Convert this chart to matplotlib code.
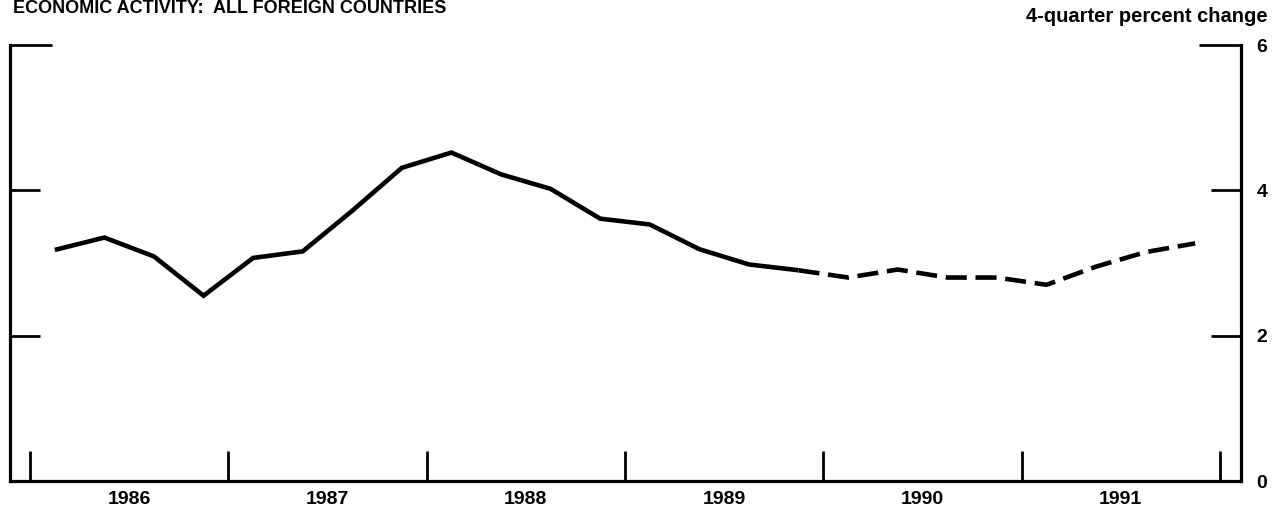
import matplotlib
matplotlib.use("Agg")
import matplotlib.pyplot as plt
import numpy as np

plt.rcParams['font.family'] = ['Liberation Sans', 'DejaVu Sans']

# ---- data ----
years = [1986, 1987, 1988, 1989, 1990, 1991]
year_labels = ["1986", "1987", "1988", "1989", "1990", "1991"]
quarters = [y + (q - 0.5) / 4 for y in years for q in range(1, 5)]
activity = [3.18, 3.35, 3.09, 2.55,
            3.07, 3.16, 3.72, 4.31,
            4.52, 4.22, 4.02, 3.61,
            3.53, 3.19, 2.98, 2.90,
            2.80, 2.91, 2.80, 2.80,
            2.70, 2.95, 3.15, 3.27]
last_actual = 15  # 1989Q4; projection dashed afterwards
y_ticks = [0, 2, 4]
y_top_tick = [6]
title = "ECONOMIC ACTIVITY:  ALL FOREIGN COUNTRIES"
units = "4-quarter percent change"

W, H = 1283, 516
fig = plt.figure(figsize=(W / 100, H / 100), dpi=100)
ax = fig.add_axes([10 / W, 35 / H, (1241 - 10) / W, (481 - 45) / H])

x = np.array(quarters)
y = np.array(activity)
ax.plot(x[:last_actual + 1], y[:last_actual + 1], color='black', lw=3.3,
        solid_joinstyle='miter', solid_capstyle='butt')
ax.plot(x[last_actual:], y[last_actual:], color='black', lw=3.3,
        linestyle=(0, (4.6, 1.9)), dash_capstyle='butt')

ax.set_xlim(1985.899, 1992.106)
ax.set_ylim(0, 6)

for s in ['left', 'right', 'bottom']:
    ax.spines[s].set_linewidth(2.3)
ax.spines['top'].set_visible(False)

# x ticks: year boundaries (inward), labels at mid-year
ax.set_xticks(list(range(years[0], years[-1] + 2)))
ax.set_xticklabels([])
ax.set_xticks([yr + 0.5 for yr in years], minor=True)
ax.set_xticklabels(year_labels, minor=True)
ax.tick_params(axis='x', which='major', direction='in', length=21.6, width=2.0)
ax.tick_params(axis='x', which='minor', length=0, pad=7, labelsize=14)
for t in ax.get_xticklabels(minor=True):
    t.set_fontweight('bold')

# y ticks on both sides, labels on right
ax.set_yticks(y_ticks)
ax.set_yticklabels([str(v) for v in y_ticks])
ax.set_yticks(y_top_tick, minor=True)
ax.set_yticklabels([str(v) for v in y_top_tick], minor=True)
ax.tick_params(axis='y', which='both', direction='in', left=True, right=True,
               labelleft=False, labelright=True, width=2.0, pad=11, labelsize=14)
ax.tick_params(axis='y', which='major', length=21.6)
ax.tick_params(axis='y', which='minor', length=30)
for t in ax.get_yticklabels() + ax.get_yticklabels(minor=True):
    t.set_fontweight('bold')

fig.text(13 / W, 1 - 13 / H, title, ha='left', va='baseline',
         fontsize=13, fontweight='bold')
fig.text(1268 / W, 1 - 22 / H, units, ha='right', va='baseline',
         fontsize=14.5, fontweight='bold')

fig.savefig("out.png", dpi=100)
